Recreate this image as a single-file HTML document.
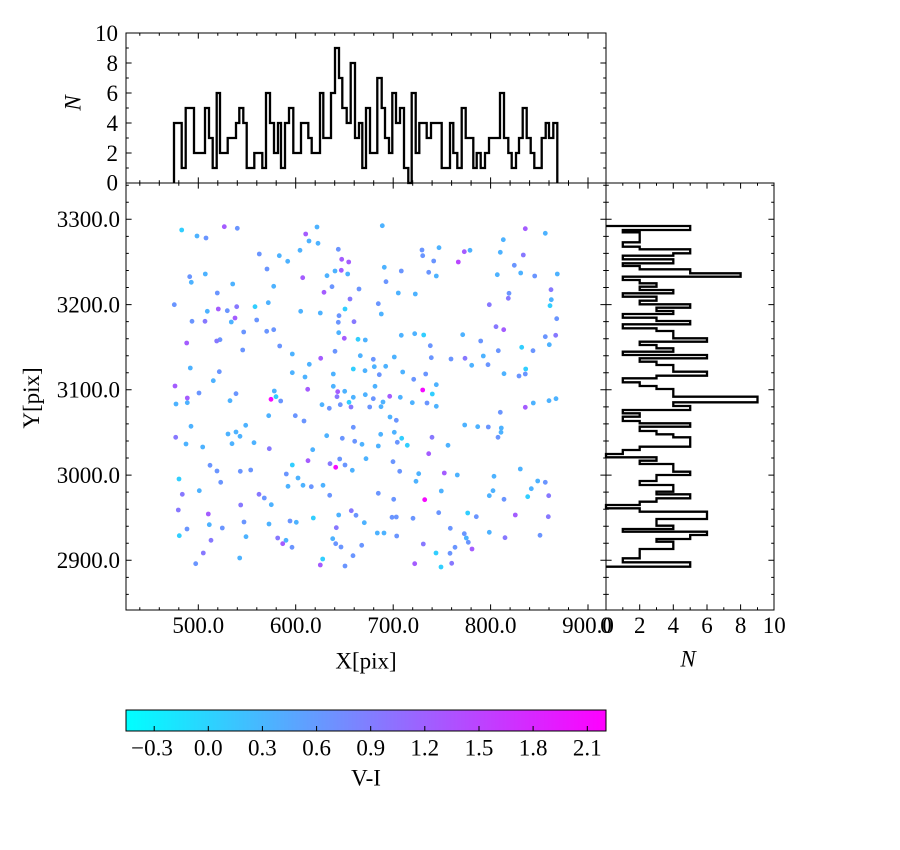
<!DOCTYPE html>
<html><head><meta charset="utf-8"><style>
html,body{margin:0;padding:0;background:#fff;}
svg{display:block;}
text{font-family:"Liberation Serif","DejaVu Serif",serif;font-size:23px;fill:#000;}
.it{font-style:italic;}
</style></head><body>
<svg width="900" height="850" viewBox="0 0 900 850" xmlns="http://www.w3.org/2000/svg">
<defs>
<linearGradient id="cm" x1="0" y1="0" x2="1" y2="0"><stop offset="0" stop-color="#00FFFF"/><stop offset="1" stop-color="#FF00FF"/></linearGradient>
<path id="xtk" fill="none" stroke="#000" stroke-width="1" d="M139.8,0v2.8M159.3,0v2.8M178.8,0v2.8M198.3,0v5.6M217.8,0v2.8M237.3,0v2.8M256.8,0v2.8M276.2,0v2.8M295.7,0v5.6M315.2,0v2.8M334.7,0v2.8M354.2,0v2.8M373.7,0v2.8M393.2,0v5.6M412.7,0v2.8M432.1,0v2.8M451.6,0v2.8M471.1,0v2.8M490.6,0v5.6M510.1,0v2.8M529.6,0v2.8M549,0v2.8M568.5,0v2.8M588,0v5.6"/>
<path id="ytk" fill="none" stroke="#000" stroke-width="1" d="M0,594.4h2.8M0,577.4h2.8M0,560.3h5.6M0,543.3h2.8M0,526.2h2.8M0,509.2h2.8M0,492.1h2.8M0,475.1h5.6M0,458h2.8M0,441h2.8M0,423.9h2.8M0,406.9h2.8M0,389.8h5.6M0,372.8h2.8M0,355.7h2.8M0,338.7h2.8M0,321.6h2.8M0,304.6h5.6M0,287.5h2.8M0,270.5h2.8M0,253.4h2.8M0,236.4h2.8M0,219.3h5.6M0,202.3h2.8M0,185.2h2.8"/>
<path id="nyt" fill="none" stroke="#000" stroke-width="1" d="M0,168h2.8M0,153h5.6M0,138h2.8M0,123h5.6M0,108h2.8M0,93h5.6M0,78h2.8M0,63h5.6M0,48h2.8"/>
<path id="nxt" fill="none" stroke="#000" stroke-width="1" d="M622.8,0v2.8M639.7,0v5.6M656.5,0v2.8M673.3,0v5.6M690.2,0v2.8M707,0v5.6M723.8,0v2.8M740.6,0v5.6M757.5,0v2.8"/>
</defs>

<g fill="#31CEFF">
<circle cx="181.7" cy="230" r="2.4"/><circle cx="255" cy="306.7" r="2.4"/><circle cx="345" cy="309" r="2.4"/><circle cx="358" cy="339.3" r="2.4"/><circle cx="353.3" cy="369" r="2.4"/><circle cx="550" cy="305.7" r="2.4"/><circle cx="521.7" cy="347.3" r="2.4"/><circle cx="525.7" cy="369" r="2.4"/><circle cx="423.7" cy="335" r="2.4"/><circle cx="432.3" cy="394" r="2.4"/><circle cx="276" cy="396.7" r="2.4"/><circle cx="349" cy="402.3" r="2.4"/><circle cx="292.3" cy="465" r="2.4"/><circle cx="179" cy="479" r="2.4"/><circle cx="313.3" cy="518" r="2.4"/><circle cx="179.3" cy="535.7" r="2.4"/><circle cx="322.7" cy="559" r="2.4"/><circle cx="401.7" cy="438.3" r="2.4"/><circle cx="407.3" cy="445.3" r="2.4"/><circle cx="527.7" cy="496.7" r="2.4"/><circle cx="467.7" cy="513" r="2.4"/><circle cx="436" cy="553" r="2.4"/><circle cx="441" cy="567" r="2.4"/>
</g>
<g fill="#4DB2FF">
<circle cx="197" cy="236" r="2.4"/><circle cx="279.3" cy="255.7" r="2.4"/><circle cx="287.7" cy="261.3" r="2.4"/><circle cx="300" cy="250.3" r="2.4"/><circle cx="309" cy="241" r="2.4"/><circle cx="317" cy="227" r="2.4"/><circle cx="318" cy="243.3" r="2.4"/><circle cx="335" cy="271" r="2.4"/><circle cx="347.7" cy="274" r="2.4"/><circle cx="327" cy="275.7" r="2.4"/><circle cx="191.3" cy="282.3" r="2.4"/><circle cx="205.3" cy="274" r="2.4"/><circle cx="232.7" cy="284" r="2.4"/><circle cx="273.7" cy="286.3" r="2.4"/><circle cx="207.3" cy="311.3" r="2.4"/><circle cx="268.3" cy="302.7" r="2.4"/><circle cx="300.7" cy="311.3" r="2.4"/><circle cx="320.3" cy="313" r="2.4"/><circle cx="231.3" cy="322" r="2.4"/><circle cx="338.7" cy="332.7" r="2.4"/><circle cx="365.3" cy="340" r="2.4"/><circle cx="292.3" cy="354" r="2.4"/><circle cx="360.3" cy="355.7" r="2.4"/><circle cx="190.3" cy="368" r="2.4"/><circle cx="309.3" cy="364.3" r="2.4"/><circle cx="365" cy="370.7" r="2.4"/><circle cx="292.3" cy="372.7" r="2.4"/><circle cx="305" cy="377" r="2.4"/><circle cx="333.3" cy="374" r="2.4"/><circle cx="213.3" cy="380.7" r="2.4"/><circle cx="274.3" cy="391" r="2.4"/><circle cx="333.3" cy="386.3" r="2.4"/><circle cx="344.7" cy="391.3" r="2.4"/>
<circle cx="382.3" cy="225.7" r="2.4"/><circle cx="439" cy="247.7" r="2.4"/><circle cx="384.3" cy="267.3" r="2.4"/><circle cx="436.3" cy="276" r="2.4"/><circle cx="398.3" cy="293" r="2.4"/><circle cx="415.3" cy="294" r="2.4"/><circle cx="381.3" cy="314" r="2.4"/><circle cx="470" cy="250.3" r="2.4"/><circle cx="503.3" cy="239.7" r="2.4"/><circle cx="500.3" cy="252.3" r="2.4"/><circle cx="545.3" cy="233.3" r="2.4"/><circle cx="520.7" cy="273" r="2.4"/><circle cx="497.3" cy="274.7" r="2.4"/><circle cx="557.3" cy="274" r="2.4"/><circle cx="551.3" cy="299.7" r="2.4"/><circle cx="549.3" cy="344.7" r="2.4"/><circle cx="462.7" cy="334.7" r="2.4"/><circle cx="483.3" cy="356" r="2.4"/><circle cx="504" cy="373.7" r="2.4"/><circle cx="401.3" cy="335.3" r="2.4"/><circle cx="414.7" cy="333.7" r="2.4"/><circle cx="471.7" cy="365.3" r="2.4"/><circle cx="374.3" cy="366.7" r="2.4"/><circle cx="385.7" cy="366.3" r="2.4"/><circle cx="394.3" cy="357" r="2.4"/><circle cx="402.7" cy="372" r="2.4"/><circle cx="375" cy="386.3" r="2.4"/><circle cx="436.3" cy="384.7" r="2.4"/>
<circle cx="176" cy="404" r="2.4"/><circle cx="187.3" cy="402.7" r="2.4"/><circle cx="230" cy="400.7" r="2.4"/><circle cx="191" cy="426.3" r="2.4"/><circle cx="186" cy="444" r="2.4"/><circle cx="202.7" cy="447" r="2.4"/><circle cx="228" cy="434" r="2.4"/><circle cx="236" cy="432" r="2.4"/><circle cx="240" cy="436.3" r="2.4"/><circle cx="245.7" cy="425.3" r="2.4"/><circle cx="232" cy="443.7" r="2.4"/><circle cx="254" cy="442.7" r="2.4"/><circle cx="268.7" cy="415.7" r="2.4"/><circle cx="322" cy="404.7" r="2.4"/><circle cx="353.3" cy="397.3" r="2.4"/><circle cx="365.3" cy="394.7" r="2.4"/><circle cx="326.7" cy="435.7" r="2.4"/><circle cx="362" cy="444.3" r="2.4"/><circle cx="312.7" cy="449.7" r="2.4"/><circle cx="366" cy="458.7" r="2.4"/><circle cx="352.3" cy="470.3" r="2.4"/><circle cx="298" cy="478" r="2.4"/><circle cx="288" cy="486.3" r="2.4"/><circle cx="303" cy="485.3" r="2.4"/><circle cx="323" cy="485.3" r="2.4"/><circle cx="199.3" cy="490.7" r="2.4"/><circle cx="271.3" cy="504.7" r="2.4"/><circle cx="209.3" cy="524.7" r="2.4"/><circle cx="269" cy="524" r="2.4"/><circle cx="296.3" cy="522.3" r="2.4"/><circle cx="338.7" cy="515" r="2.4"/><circle cx="364.3" cy="522.7" r="2.4"/><circle cx="246" cy="536.7" r="2.4"/><circle cx="286" cy="540.3" r="2.4"/><circle cx="332.7" cy="538.7" r="2.4"/><circle cx="239.7" cy="558" r="2.4"/>
<circle cx="400.3" cy="397.3" r="2.4"/><circle cx="381" cy="406.7" r="2.4"/><circle cx="383" cy="402" r="2.4"/><circle cx="412.3" cy="402.7" r="2.4"/><circle cx="436.3" cy="406.3" r="2.4"/><circle cx="390" cy="417" r="2.4"/><circle cx="380.7" cy="434.3" r="2.4"/><circle cx="394.3" cy="432.3" r="2.4"/><circle cx="378.3" cy="446" r="2.4"/><circle cx="448" cy="445.3" r="2.4"/><circle cx="464.7" cy="425" r="2.4"/><circle cx="477.7" cy="426.7" r="2.4"/><circle cx="501.3" cy="428" r="2.4"/><circle cx="501" cy="432.3" r="2.4"/><circle cx="533.3" cy="403" r="2.4"/><circle cx="549" cy="400.7" r="2.4"/><circle cx="556" cy="398.7" r="2.4"/><circle cx="418.7" cy="473.7" r="2.4"/><circle cx="416" cy="481.3" r="2.4"/><circle cx="457.3" cy="475" r="2.4"/><circle cx="494" cy="476.3" r="2.4"/><circle cx="520.3" cy="469" r="2.4"/><circle cx="441.3" cy="491" r="2.4"/><circle cx="489.3" cy="495.7" r="2.4"/><circle cx="493" cy="490.7" r="2.4"/><circle cx="531.3" cy="488.7" r="2.4"/><circle cx="537.7" cy="481" r="2.4"/><circle cx="377.3" cy="533" r="2.4"/><circle cx="384" cy="533" r="2.4"/><circle cx="466.3" cy="538" r="2.4"/><circle cx="489.3" cy="532.3" r="2.4"/>
</g>
<g fill="#6A95FF">
<circle cx="206" cy="238" r="2.4"/><circle cx="237.3" cy="228.3" r="2.4"/><circle cx="259.3" cy="254" r="2.4"/><circle cx="338.3" cy="249.3" r="2.4"/><circle cx="267" cy="269" r="2.4"/><circle cx="189.7" cy="276.7" r="2.4"/><circle cx="217.3" cy="293" r="2.4"/><circle cx="332" cy="286.7" r="2.4"/><circle cx="359" cy="289" r="2.4"/><circle cx="174.3" cy="304.7" r="2.4"/><circle cx="227.3" cy="310.7" r="2.4"/><circle cx="339" cy="315.7" r="2.4"/><circle cx="192" cy="321.3" r="2.4"/><circle cx="256.7" cy="320" r="2.4"/><circle cx="338.3" cy="322.3" r="2.4"/><circle cx="243.7" cy="332" r="2.4"/><circle cx="266.7" cy="331.3" r="2.4"/><circle cx="273.7" cy="329.7" r="2.4"/><circle cx="220" cy="339.7" r="2.4"/><circle cx="242.7" cy="350" r="2.4"/><circle cx="279.7" cy="346" r="2.4"/><circle cx="335" cy="351.3" r="2.4"/><circle cx="219.3" cy="371.7" r="2.4"/><circle cx="199" cy="393" r="2.4"/><circle cx="236" cy="393.7" r="2.4"/>
<circle cx="422" cy="250" r="2.4"/><circle cx="422.7" cy="255.7" r="2.4"/><circle cx="433.7" cy="261" r="2.4"/><circle cx="401.3" cy="271" r="2.4"/><circle cx="428.7" cy="272.3" r="2.4"/><circle cx="386" cy="281.7" r="2.4"/><circle cx="378.3" cy="303.7" r="2.4"/><circle cx="514.3" cy="265.3" r="2.4"/><circle cx="534.7" cy="276" r="2.4"/><circle cx="509" cy="293.3" r="2.4"/><circle cx="556.7" cy="318.7" r="2.4"/><circle cx="545.3" cy="336.7" r="2.4"/><circle cx="533" cy="350.7" r="2.4"/><circle cx="498.3" cy="350.7" r="2.4"/><circle cx="480.7" cy="341" r="2.4"/><circle cx="488" cy="364.7" r="2.4"/><circle cx="519" cy="376" r="2.4"/><circle cx="525.3" cy="374" r="2.4"/><circle cx="430.3" cy="345.7" r="2.4"/><circle cx="431.3" cy="357.7" r="2.4"/><circle cx="451" cy="359" r="2.4"/><circle cx="373.3" cy="359.3" r="2.4"/><circle cx="379.3" cy="374.7" r="2.4"/><circle cx="425.7" cy="374" r="2.4"/><circle cx="413.7" cy="379.3" r="2.4"/>
<circle cx="280.7" cy="401" r="2.4"/><circle cx="295.3" cy="415.7" r="2.4"/><circle cx="304" cy="421" r="2.4"/><circle cx="329.3" cy="408.3" r="2.4"/><circle cx="340.3" cy="404.7" r="2.4"/><circle cx="353.3" cy="427.3" r="2.4"/><circle cx="342.3" cy="438.3" r="2.4"/><circle cx="354.7" cy="441.3" r="2.4"/><circle cx="339.7" cy="459" r="2.4"/><circle cx="345" cy="465" r="2.4"/><circle cx="210" cy="465.3" r="2.4"/><circle cx="217" cy="471" r="2.4"/><circle cx="240.3" cy="471.3" r="2.4"/><circle cx="250.7" cy="470" r="2.4"/><circle cx="286.3" cy="474" r="2.4"/><circle cx="220.7" cy="482.3" r="2.4"/><circle cx="311.3" cy="486.7" r="2.4"/><circle cx="329.7" cy="495.3" r="2.4"/><circle cx="264.3" cy="498" r="2.4"/><circle cx="222.3" cy="528" r="2.4"/><circle cx="244" cy="522" r="2.4"/><circle cx="290" cy="521" r="2.4"/><circle cx="356" cy="515.3" r="2.4"/><circle cx="187" cy="529" r="2.4"/><circle cx="292" cy="547.3" r="2.4"/><circle cx="335.7" cy="543.7" r="2.4"/><circle cx="341" cy="547" r="2.4"/><circle cx="361.7" cy="545.3" r="2.4"/><circle cx="195.7" cy="563.7" r="2.4"/><circle cx="345" cy="566" r="2.4"/><circle cx="353" cy="555.7" r="2.4"/>
<circle cx="373.3" cy="398.7" r="2.4"/><circle cx="369.7" cy="407" r="2.4"/><circle cx="427" cy="403" r="2.4"/><circle cx="396.3" cy="420.3" r="2.4"/><circle cx="397.3" cy="442.3" r="2.4"/><circle cx="488.3" cy="427" r="2.4"/><circle cx="498" cy="437.3" r="2.4"/><circle cx="500.3" cy="412.3" r="2.4"/><circle cx="393" cy="461.7" r="2.4"/><circle cx="399.7" cy="471.3" r="2.4"/><circle cx="378.3" cy="493.3" r="2.4"/><circle cx="393.7" cy="499.3" r="2.4"/><circle cx="504" cy="499.3" r="2.4"/><circle cx="545.3" cy="482.3" r="2.4"/><circle cx="392" cy="517.3" r="2.4"/><circle cx="396.3" cy="517" r="2.4"/><circle cx="413" cy="518.3" r="2.4"/><circle cx="438.7" cy="512.7" r="2.4"/><circle cx="476.3" cy="516.7" r="2.4"/><circle cx="396.7" cy="536" r="2.4"/><circle cx="450.3" cy="528.3" r="2.4"/><circle cx="464.3" cy="533.7" r="2.4"/><circle cx="468.3" cy="542.3" r="2.4"/><circle cx="540" cy="535.3" r="2.4"/><circle cx="455" cy="547.3" r="2.4"/><circle cx="450" cy="553.3" r="2.4"/>
</g>
<g fill="#8778FF">
<circle cx="350" cy="299" r="2.4"/><circle cx="236.7" cy="306.7" r="2.4"/><circle cx="205" cy="321.3" r="2.4"/><circle cx="354" cy="321.7" r="2.4"/><circle cx="216.7" cy="341" r="2.4"/>
<circle cx="523.3" cy="255" r="2.4"/><circle cx="508.3" cy="298.3" r="2.4"/><circle cx="489.3" cy="304.7" r="2.4"/><circle cx="551" cy="289.7" r="2.4"/><circle cx="496" cy="326.7" r="2.4"/><circle cx="555.7" cy="335.3" r="2.4"/><circle cx="465" cy="358.3" r="2.4"/>
<circle cx="175.7" cy="437.3" r="2.4"/><circle cx="337" cy="396.7" r="2.4"/><circle cx="351" cy="407" r="2.4"/><circle cx="269.3" cy="448.7" r="2.4"/><circle cx="330" cy="463.7" r="2.4"/><circle cx="182.3" cy="494.3" r="2.4"/><circle cx="259" cy="494.3" r="2.4"/><circle cx="240.7" cy="505" r="2.4"/><circle cx="178.3" cy="510" r="2.4"/><circle cx="351.3" cy="510.7" r="2.4"/><circle cx="211" cy="540.3" r="2.4"/><circle cx="277.7" cy="538" r="2.4"/><circle cx="336.3" cy="527.7" r="2.4"/><circle cx="203.3" cy="553" r="2.4"/>
<circle cx="432" cy="437.3" r="2.4"/><circle cx="548.7" cy="495.7" r="2.4"/><circle cx="548.3" cy="516.7" r="2.4"/><circle cx="505" cy="537.7" r="2.4"/><circle cx="423.3" cy="544" r="2.4"/><circle cx="451.7" cy="563.3" r="2.4"/>
</g>
<g fill="#A45CFF">
<circle cx="224.3" cy="226.7" r="2.4"/><circle cx="305.7" cy="234" r="2.4"/><circle cx="341.7" cy="259.3" r="2.4"/><circle cx="348.7" cy="262" r="2.4"/><circle cx="341.3" cy="270.3" r="2.4"/><circle cx="302.7" cy="277.7" r="2.4"/><circle cx="324" cy="292.3" r="2.4"/><circle cx="218.3" cy="309" r="2.4"/><circle cx="235" cy="318" r="2.4"/><circle cx="186.7" cy="343" r="2.4"/><circle cx="344.3" cy="338.3" r="2.4"/><circle cx="320.7" cy="358.3" r="2.4"/><circle cx="175" cy="386" r="2.4"/><circle cx="307.7" cy="389.3" r="2.4"/><circle cx="337.7" cy="391.7" r="2.4"/>
<circle cx="464.3" cy="251.7" r="2.4"/><circle cx="525.3" cy="228.7" r="2.4"/><circle cx="503.7" cy="329.7" r="2.4"/>
<circle cx="187.3" cy="398" r="2.4"/><circle cx="308" cy="460.7" r="2.4"/><circle cx="208.3" cy="514" r="2.4"/><circle cx="282.7" cy="543.7" r="2.4"/><circle cx="320.3" cy="565" r="2.4"/>
<circle cx="389.7" cy="396.3" r="2.4"/><circle cx="428.7" cy="453.7" r="2.4"/><circle cx="525.3" cy="407.3" r="2.4"/><circle cx="444.3" cy="473" r="2.4"/><circle cx="515.3" cy="515" r="2.4"/><circle cx="472" cy="549" r="2.4"/><circle cx="414.7" cy="563.7" r="2.4"/>
</g>
<g fill="#B946FF"><circle cx="458.3" cy="262" r="2.4"/></g>
<g fill="#F50AFF">
<circle cx="422.7" cy="390" r="2.4"/><circle cx="271" cy="399.3" r="2.4"/><circle cx="335.7" cy="467.3" r="2.4"/><circle cx="424.7" cy="499.7" r="2.4"/>
</g>

<path fill="none" stroke="#000" stroke-width="2.3" stroke-linejoin="miter" d="M174,183 V123 H181.7 V168 H185.7 V108 H194 V153 H205 V108 H209 V138 H212.7 V168 H216.7 V93 H220 V153 H227.7 V138 H236 V123 H239.3 V108 H243.3 V123 H246.7 V168 H254.3 V153 H262.3 V168 H266 V93 H270 V123 H274 V153 H278 V123 H281 V168 H285 V123 H289 V108 H293.3 V153 H301 V123 H308.3 V138 H311.7 V153 H320 V93 H323.3 V138 H331 V93 H335 V48 H339 V78 H342.3 V108 H346.7 V123 H350.7 V63 H355 V138 H359 V123 H362.3 V168 H366 V108 H370 V153 H377.3 V78 H381.7 V108 H385 V138 H389 V153 H392.3 V93 H396 V123 H400 V108 H404 V168 H408.3 V183 H411.7 V93 H415.7 V153 H419.3 V123 H426.7 V138 H431 V123 H441.7 V168 H450 V123 H453.3 V153 H457.3 V168 H461.7 V108 H465.7 V138 H473.3 V168 H476.7 V153 H480.7 V168 H485 V153 H489 V138 H500 V93 H504 V138 H508.3 V153 H511.7 V168 H516 V153 H519 V138 H522.7 V108 H526.7 V138 H530.7 V153 H534.3 V168 H541.7 V138 H545.7 V123 H549 V138 H553.3 V123 H557.3 V183"/>

<path fill="none" stroke="#000" stroke-width="2.3" stroke-linejoin="miter" d="M606,226 H690.2 V230 H622.8 V232.3 H639.7 V242.3 H622.8 V246.7 H639.7 V249.3 H690.2 V253.3 H673.3 V255.7 H622.8 V259.3 H673.3 V263.3 H622.8 V266 H639.7 V269.3 H690.2 V273.3 H740.6 V276.7 H622.8 V280 H639.7 V283.3 H656.5 V286.7 H639.7 V290 H673.3 V293.3 H622.8 V296.7 H656.5 V300.7 H639.7 V304.3 H690.2 V307.7 H656.5 V311 H673.3 V314 H622.8 V317.7 H656.5 V321 H690.2 V324.3 H622.8 V328.3 H656.5 V331 H673.3 V338.3 H707 V341.7 H639.7 V345 H656.5 V348.3 H673.3 V351.7 H622.8 V355 H707 V358.3 H639.7 V361.7 H656.5 V365 H673.3 V371.7 H707 V375.7 H656.5 V378.3 H622.8 V382.3 H639.7 V386 H656.5 V389 H673.3 V396.7 H757.5 V402.3 H673.3 V406 H690.2 V410 H622.8 V413.3 H639.7 V416.7 H622.8 V421 H639.7 V423.3 H690.2 V426.7 H639.7 V431 H656.5 V434.3 H673.3 V437.3 H690.2 V446.7 H639.7 V450 H622.8 V454 H606 V457.3 H656.5 V460.7 H639.7 V464 H673.3 V471.7 H690.2 V475 H656.5 V481 H639.7 V485 H673.3 V491.7 H656.5 V494.3 H690.2 V498.3 H656.5 V501.7 H639.7 V505 H606 V508.3 H639.7 V511.7 H707 V519 H656.5 V525.7 H673.3 V529 H622.8 V531.7 H707 V535 H690.2 V539 H656.5 V541.7 H673.3 V549 H639.7 V558.3 H622.8 V562.3 H690.2 V566.7 H606"/>

<use href="#xtk" transform="translate(0,183)"/>
<use href="#xtk" transform="translate(0,610) scale(1,-1)"/>
<use href="#xtk" transform="translate(0,33)"/>
<use href="#xtk" transform="translate(0,183) scale(1,-1)"/>
<use href="#ytk" transform="translate(126,0)"/>
<use href="#ytk" transform="translate(606,0) scale(-1,1)"/>
<use href="#ytk" transform="translate(606,0)"/>
<use href="#ytk" transform="translate(774,0) scale(-1,1)"/>
<use href="#nyt" transform="translate(126,0)"/>
<use href="#nyt" transform="translate(606,0) scale(-1,1)"/>
<use href="#nxt" transform="translate(0,183)"/>
<use href="#nxt" transform="translate(0,610) scale(1,-1)"/>

<g fill="none" stroke="#000" stroke-width="1">
<rect x="126" y="183" width="480" height="427"/>
<rect x="126" y="33" width="480" height="150"/>
<rect x="606" y="183" width="168" height="427"/>
</g>

<rect x="126" y="710" width="480" height="21" fill="url(#cm)" stroke="#000" stroke-width="1"/>
<path fill="none" stroke="#000" stroke-width="1" d="M154.2,731v-5M208.3,731v-5M262.4,731v-5M316.6,731v-5M370.7,731v-5M424.8,731v-5M479,731v-5M533.1,731v-5M587.3,731v-5"/>

<g text-anchor="middle">
<text x="198.3" y="633">500.0</text>
<text x="295.7" y="633">600.0</text>
<text x="393.2" y="633">700.0</text>
<text x="490.6" y="633">800.0</text>
<text x="588" y="633">900.0</text>
<text x="606" y="633">0</text>
<text x="639.7" y="633">2</text>
<text x="673.3" y="633">4</text>
<text x="707" y="633">6</text>
<text x="740.6" y="633">8</text>
<text x="774.3" y="633">10</text>
<text x="152" y="755.5">−0.3</text>
<text x="208.3" y="755.5">0.0</text>
<text x="262.4" y="755.5">0.3</text>
<text x="316.6" y="755.5">0.6</text>
<text x="370.7" y="755.5">0.9</text>
<text x="424.8" y="755.5">1.2</text>
<text x="479" y="755.5">1.5</text>
<text x="533.1" y="755.5">1.8</text>
<text x="587.3" y="755.5">2.1</text>
<text x="366" y="668.5">X[pix]</text>
<text x="366" y="785.5">V-I</text>
<text x="688" y="666.5" class="it">N</text>
<text transform="translate(39,398) rotate(-90)">Y[pix]</text>
<text transform="translate(80.5,103) rotate(-90)" class="it">N</text>
</g>
<g text-anchor="end">
<text x="120" y="227">3300.0</text>
<text x="120" y="312.3">3200.0</text>
<text x="120" y="397.5">3100.0</text>
<text x="120" y="482.8">3000.0</text>
<text x="120" y="568">2900.0</text>
<text x="118" y="40.8">10</text>
<text x="118" y="70.8">8</text>
<text x="118" y="100.8">6</text>
<text x="118" y="130.8">4</text>
<text x="118" y="160.8">2</text>
<text x="118" y="190.3">0</text>
</g>
</svg>
</body></html>
